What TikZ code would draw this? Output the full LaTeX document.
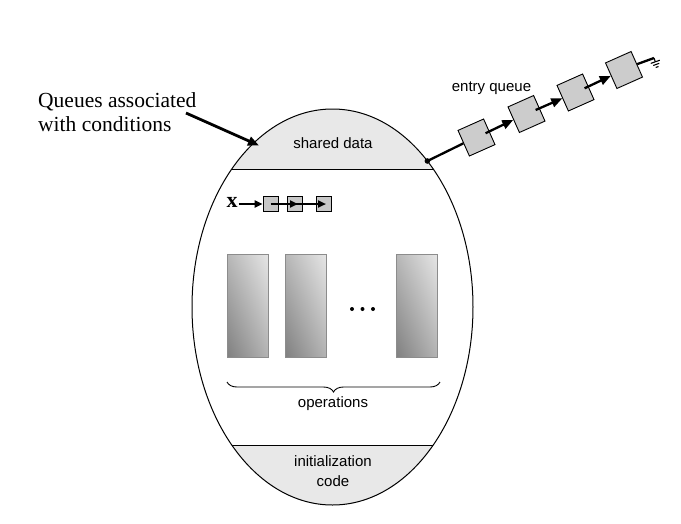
\documentclass[tikz,border=0pt]{standalone}
\usepackage{fontspec}
\setmainfont{Liberation Serif}
\newfontfamily\sansf{Liberation Sans}
\usetikzlibrary{arrows.meta,decorations.pathreplacing,calc,shadings}

\begin{document}
\begin{tikzpicture}[x=1pt,y=-1pt,
  region/.style={fill=black!9},
  qbox/.style={draw=black, line width=0.8pt, fill=black!22, minimum size=15pt, inner sep=0pt},
  ebox/.style={draw=black, line width=0.9pt, fill=black!20, minimum size=28pt, inner sep=0pt, rotate=24},
  ptr/.style={line width=2.3pt, -{Triangle[length=11pt,width=9pt]}},
  cptr/.style={line width=2pt, -{Triangle[length=8pt,width=7pt]}},
  wire/.style={line width=2.3pt},
  sanslbl/.style={font=\sansf\fontsize{15}{20}\selectfont, inner sep=0pt},
  opbox/.style={draw=black!45, line width=0.5pt, minimum width=41pt, minimum height=103pt, inner sep=0pt,
    lower left=black!50, upper right=black!10, upper left=black!28, lower right=black!30},
]
\useasboundingbox (0,0) rectangle (681,523);
\fill[white] (0,0) rectangle (681,523);

% shaded regions of the monitor
\begin{scope}
  \clip (0,0) rectangle (681,169);
  \fill[region] (332.5,307) ellipse [x radius=140.5pt, y radius=198pt];
\end{scope}
\begin{scope}
  \clip (0,445) rectangle (681,523);
  \fill[region] (332.5,307) ellipse [x radius=140.5pt, y radius=198pt];
\end{scope}
\draw[line width=1pt] (332.5,307) ellipse [x radius=140.5pt, y radius=198pt];
\draw[line width=1pt] (231.75,169) -- (433.25,169);
\draw[line width=1pt] (231.75,445) -- (433.25,445);

% texts inside
\node[sanslbl, anchor=base] (shared) at (333,148) {shared data};
\node[sanslbl, anchor=base] (ops) at (333,407) {operations};
\node[sanslbl, anchor=north, align=center] (init) at (333,455.3) {initialization\\code};

% operations
\node[opbox, shade] (op1) at (247.5,305.5) {};
\node[opbox, shade] (op2) at (305.5,305.5) {};
\node[opbox, shade] (op3) at (416.5,305.5) {};
\foreach \xx in {352,362.5,373} \fill (\xx,309) circle[radius=2pt];
\draw[line width=0.9pt, decorate, decoration={brace, mirror, amplitude=10pt}] (227,382) -- (440,382);

% condition queue
\node[font=\bfseries\fontsize{22}{22}\selectfont, inner sep=0pt] (cx) at (232,202) {x};
\node[qbox] (c1) at (270.5,204) {};
\node[qbox] (c2) at (295,204) {};
\node[qbox] (c3) at (324,204) {};
\draw[cptr, shorten <=1pt] (cx.east |- c1.west) -- (c1.west);
\draw[cptr] (c1.center) -- ($(c2.center)+(3,0)$);
\draw[cptr] (c2.center) -- ($(c3.center)+(2,0)$);

% label
\node[font=\fontsize{21.5}{24}\selectfont, anchor=north west, align=left, inner sep=0pt] (qlbl) at (38,92) {Queues associated\\with conditions};
\coordinate (qstart) at (186,113);
\coordinate (qtip) at (259,145.5);
\draw[line width=2.8pt, -{Triangle[length=11pt,width=9pt]}] (qstart) -- (qtip);

% entry queue
\coordinate (dot) at (427.4,161);
\node[ebox] (e1) at (476.5,137.5) {};
\node[ebox] (e2) at (526.5,114) {};
\node[ebox] (e3) at (575.5,92.5) {};
\node[ebox] (e4) at (624,70) {};
\draw[wire] (dot) -- (e1.west);
\fill (dot) circle[radius=2.8pt];
\draw[ptr] ($(e1.center)!10pt!(e2.center)$) -- (e2.west);
\draw[ptr] ($(e2.center)!10pt!(e3.center)$) -- (e3.west);
\draw[ptr] ($(e3.center)!10pt!(e4.center)$) -- (e4.west);
\node[sanslbl, anchor=base] (eq) at (491.5,91) {entry queue};

% null pointer (ground)
\coordinate (gnd) at (654,58);
\draw[wire] (e4.east) -- (gnd);
\draw[line width=1.1pt] (gnd) -- ++(1.3,3.8) coordinate (gs);
\draw[line width=1.1pt] ($(gs)+(-4.5,1.6)$) -- ($(gs)+(4.5,-1.6)$);
\draw[line width=1.1pt] ($(gs)+(0.9,2.6)+(-3,1.1)$) -- ($(gs)+(0.9,2.6)+(3,-1.1)$);
\draw[line width=1.1pt] ($(gs)+(1.8,5.2)+(-1.4,0.5)$) -- ($(gs)+(1.8,5.2)+(1.4,-0.5)$);
\end{tikzpicture}
\end{document}
